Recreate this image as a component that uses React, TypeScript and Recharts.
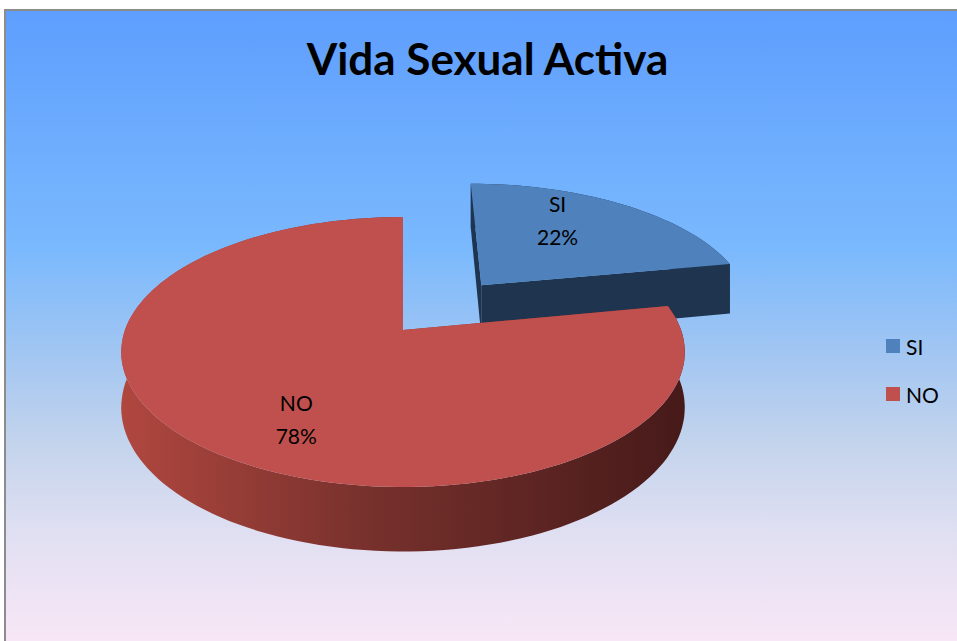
import { PieChart, Pie, Cell, Legend } from "recharts";

const categories = ["SI", "NO"];
const values = [22, 78];
const topColors = ["#4f81bd", "#c0504d"];
const title = "Vida Sexual Activa";

// slice pulled out of the pie
const exploded = ["SI"];

const TILT = 0.4727; // vertical squash of the pie plane
const PERSP = 0.163; // far rim shrink, as a share of the radius
const DEPTH = 54;
const EXPLODE = 130;
const FONT = "Lato, 'Open Sans', sans-serif";

const data = categories.map((name, i) => ({ name, value: values[i] }));

// pie plane (X right, Y away from viewer) -> screen
function project(cx: number, cy: number, r: number, X: number, Y: number, z = 0) {
  const s = 1 / (1 + (PERSP / r) * Y);
  return [cx + X * s, cy - Y * TILT * s + z * s];
}

function rad(a: number) {
  return (a * Math.PI) / 180;
}

function Slice3D(props: any) {
  const { cx, cy, outerRadius: r, startAngle, endAngle, midAngle, fill, name, payload } = props;
  const label = name ?? payload?.name;
  const off = exploded.includes(label) ? EXPLODE : 0;
  const ox = off * Math.cos(rad(midAngle));
  const oy = off * Math.sin(rad(midAngle));
  const lo = Math.min(startAngle, endAngle);
  const hi = Math.max(startAngle, endAngle);
  const steps = Math.max(8, Math.ceil((hi - lo) / 2));

  const rim = (z: number) => {
    const pts: number[][] = [];
    for (let i = 0; i <= steps; i++) {
      const a = rad(hi - ((hi - lo) * i) / steps);
      pts.push(project(cx, cy, r, ox + r * Math.cos(a), oy + r * Math.sin(a), z));
    }
    return pts;
  };
  const toPath = (pts: number[][]) => pts.map((p, i) => `${i ? "L" : "M"}${p[0].toFixed(1)},${p[1].toFixed(1)}`).join("");

  const top = rim(0);
  const bottom = rim(DEPTH);
  const c0 = project(cx, cy, r, ox, oy, 0);
  const c1 = project(cx, cy, r, ox, oy, DEPTH);

  const isRed = label === "NO";
  const gid = `wall-${label}`;
  const wallFill = isRed ? `url(#${gid})` : "#1f344f";

  const outer = toPath([...top, ...bottom.reverse()]) + "Z";

  const radial = (a: number) => {
    const p0 = project(cx, cy, r, ox + r * Math.cos(rad(a)), oy + r * Math.sin(rad(a)), 0);
    const p1 = project(cx, cy, r, ox + r * Math.cos(rad(a)), oy + r * Math.sin(rad(a)), DEPTH);
    return toPath([c0, p0, p1, c1]) + "Z";
  };

  const face = toPath([c0, ...top]) + "Z";

  return (
    <g>
      <defs>
        <linearGradient id={gid} x1="0" y1="0" x2="1" y2="0">
          <stop offset="0%" stopColor="#b0473f" />
          <stop offset="45%" stopColor="#76302c" />
          <stop offset="100%" stopColor="#461a19" />
        </linearGradient>
      </defs>
      <path d={outer} fill={wallFill} />
      <path d={radial(hi)} fill={isRed ? "#8c3835" : "#1f344f"} />
      <path d={radial(lo)} fill={isRed ? "#8c3835" : "#1f344f"} />
      <path d={face} fill={fill} />
    </g>
  );
}

function SliceLabel(props: any) {
  const { cx, cy, outerRadius: r, midAngle, name, percent } = props;
  const off = exploded.includes(name) ? EXPLODE : 0;
  const ox = off * Math.cos(rad(midAngle));
  const oy = off * Math.sin(rad(midAngle));
  const a = rad(midAngle + 10);
  const [x, y] = project(cx, cy, r, ox + 0.7 * r * Math.cos(a), oy + 0.7 * r * Math.sin(a));
  return (
    <text x={x} y={y} textAnchor="middle" fontFamily={FONT} fontSize={21} fill="#000">
      <tspan x={x} dy={-8}>{name}</tspan>
      <tspan x={x} dy={33}>{`${Math.round(percent * 100)}%`}</tspan>
    </text>
  );
}

function LegendBox(props: any) {
  const items = [...(props.payload || [])].sort(
    (a: any, b: any) => categories.indexOf(a.value) - categories.indexOf(b.value)
  );
  return (
    <div style={{ fontFamily: FONT, fontSize: 21, color: "#000" }}>
      {items.map((it: any) => (
        <div key={it.value} style={{ display: "flex", alignItems: "center", height: 48 }}>
          <span style={{ width: 14, height: 14, background: it.color, marginRight: 6, display: "inline-block" }} />
          <span>{it.value}</span>
        </div>
      ))}
    </div>
  );
}

export default function App() {
  return (
    <div style={{ position: "fixed", left: 0, top: 0, width: 957, height: 641, overflow: "hidden", background: "#fff" }}>
      <div
        style={{
          position: "absolute",
          left: 4,
          top: 9,
          width: 1100,
          height: 700,
          borderLeft: "2px solid #8c8c8c",
          borderTop: "2px solid #8c8c8c",
          background:
            "linear-gradient(to bottom, #5e9efe 0%, #7ab9fd 34%, #a2c6f2 49%, #c4d4ec 62%, #dfdff2 74%, #f8e7f6 90%)",
        }}
      />
      <div
        style={{
          position: "absolute",
          left: 0,
          top: 32,
          width: 957,
          boxSizing: "border-box",
          paddingLeft: 18,
          textAlign: "center",
          fontFamily: FONT,
          fontWeight: 700,
          fontSize: 44,
          color: "#000",
        }}
      >
        {title}
      </div>
      <div style={{ position: "absolute", left: 0, top: 0 }}>
        <PieChart width={957} height={641} margin={{ top: 0, right: 0, bottom: 0, left: 0 }}>
          <Pie
            data={data}
            dataKey="value"
            nameKey="name"
            cx={403}
            cy={330}
            outerRadius={278}
            startAngle={90}
            endAngle={-270}
            stroke="none"
            shape={Slice3D}
            label={SliceLabel}
            labelLine={false}
            isAnimationActive={false}
          >
            {data.map((d, i) => (
              <Cell key={d.name} fill={topColors[i]} />
            ))}
          </Pie>
          <Legend
            layout="vertical"
            content={LegendBox}
            wrapperStyle={{ position: "absolute", left: 886, top: 322, width: 70 }}
          />
        </PieChart>
      </div>
    </div>
  );
}
